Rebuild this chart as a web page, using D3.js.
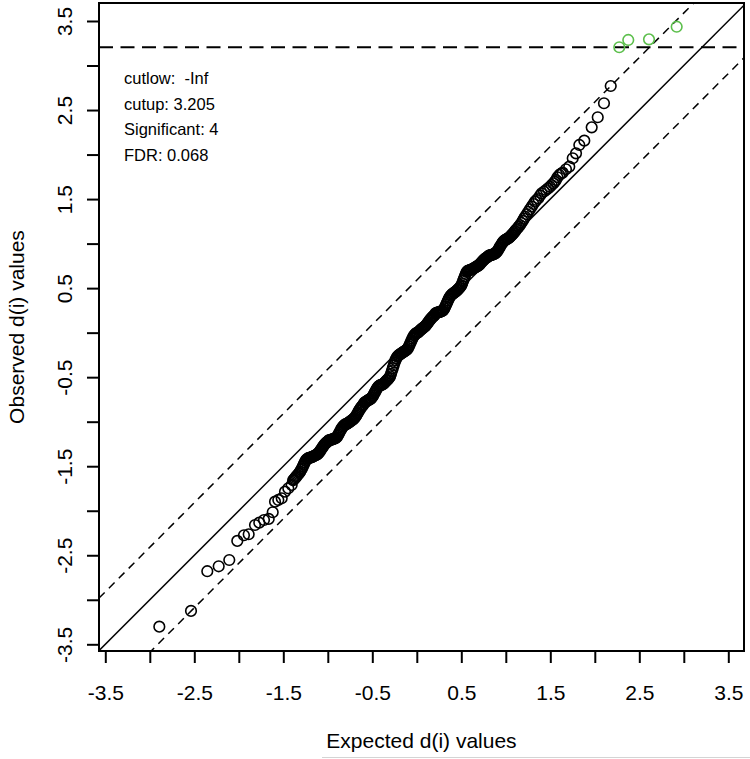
<!DOCTYPE html>
<html><head><meta charset="utf-8">
<script src="https://cdn.jsdelivr.net/npm/d3@7"></script>
<style>
body{margin:0;background:#fff;}
svg{display:block;}
text{font-family:"Liberation Sans",Arial,Helvetica,sans-serif;fill:#000;}
</style>
</head><body>
<svg id="chart" width="750" height="759"></svg>
<script>
// ---- data ----
// lower tail
const lowExpected = [-2.893,-2.537,-2.354,-2.226,-2.107,-2.017,-1.942,-1.889,-1.818,-1.770,-1.717,-1.664,-1.619,-1.593,-1.556,-1.518,-1.481,-1.444,-1.406];
const lowObserved = [-3.302,-3.125,-2.679,-2.624,-2.553,-2.339,-2.275,-2.264,-2.160,-2.134,-2.104,-2.092,-2.017,-1.898,-1.879,-1.860,-1.786,-1.748,-1.711];
// dense central band
const midExpected = [
 -1.39,-1.38,-1.37,-1.36,-1.35,-1.34,-1.33,-1.32,-1.31,-1.30,
 -1.29,-1.28,-1.27,-1.26,-1.25,-1.24,-1.23,-1.22,-1.21,-1.20,
 -1.19,-1.18,-1.17,-1.16,-1.15,-1.14,-1.13,-1.12,-1.11,-1.10,
 -1.09,-1.08,-1.07,-1.06,-1.05,-1.04,-1.03,-1.02,-1.01,-1.00,
 -0.99,-0.98,-0.97,-0.96,-0.95,-0.94,-0.93,-0.92,-0.91,-0.90,
 -0.89,-0.88,-0.87,-0.86,-0.85,-0.84,-0.83,-0.82,-0.81,-0.80,
 -0.79,-0.78,-0.77,-0.76,-0.75,-0.74,-0.73,-0.72,-0.71,-0.70,
 -0.69,-0.68,-0.67,-0.66,-0.65,-0.64,-0.63,-0.62,-0.61,-0.60,
 -0.59,-0.58,-0.57,-0.56,-0.55,-0.54,-0.53,-0.52,-0.51,-0.50,
 -0.49,-0.48,-0.47,-0.46,-0.45,-0.44,-0.43,-0.42,-0.41,-0.40,
 -0.39,-0.38,-0.37,-0.36,-0.35,-0.34,-0.33,-0.32,-0.31,-0.30,
 -0.29,-0.28,-0.27,-0.26,-0.25,-0.24,-0.23,-0.22,-0.21,-0.20,
 -0.19,-0.18,-0.17,-0.16,-0.15,-0.14,-0.13,-0.12,-0.11,-0.10,
 -0.09,-0.08,-0.07,-0.06,-0.05,-0.04,-0.03,-0.02,-0.01,0.00,
 0.01,0.02,0.03,0.04,0.05,0.06,0.07,0.08,0.09,0.10,
 0.11,0.12,0.13,0.14,0.15,0.16,0.17,0.18,0.19,0.20,
 0.21,0.22,0.23,0.24,0.25,0.26,0.27,0.28,0.29,0.30,
 0.31,0.32,0.33,0.34,0.35,0.36,0.37,0.38,0.39,0.40,
 0.41,0.42,0.43,0.44,0.45,0.46,0.47,0.48,0.49,0.50,
 0.51,0.52,0.53,0.54,0.55,0.56,0.57,0.58,0.59,0.60,
 0.61,0.62,0.63,0.64,0.65,0.66,0.67,0.68,0.69,0.70,
 0.71,0.72,0.73,0.74,0.75,0.76,0.77,0.78,0.79,0.80,
 0.81,0.82,0.83,0.84,0.85,0.86,0.87,0.88,0.89,0.90
];
const midObserved = [
 -1.658,-1.647,-1.635,-1.623,-1.611,-1.599,-1.587,-1.575,-1.561,-1.541,
 -1.524,-1.502,-1.480,-1.459,-1.440,-1.426,-1.416,-1.410,-1.406,-1.404,
 -1.402,-1.398,-1.393,-1.388,-1.383,-1.377,-1.372,-1.367,-1.359,-1.348,
 -1.334,-1.319,-1.304,-1.289,-1.273,-1.260,-1.248,-1.238,-1.230,-1.222,
 -1.210,-1.207,-1.203,-1.201,-1.198,-1.195,-1.191,-1.188,-1.183,-1.175,
 -1.160,-1.141,-1.122,-1.104,-1.084,-1.068,-1.054,-1.044,-1.034,-1.028,
 -1.027,-1.020,-1.013,-1.006,-0.999,-0.991,-0.984,-0.977,-0.969,-0.959,
 -0.946,-0.931,-0.913,-0.895,-0.876,-0.861,-0.845,-0.832,-0.819,-0.808,
 -0.787,-0.780,-0.774,-0.768,-0.761,-0.755,-0.750,-0.744,-0.735,-0.723,
 -0.707,-0.686,-0.668,-0.650,-0.631,-0.616,-0.604,-0.596,-0.589,-0.586,
 -0.584,-0.580,-0.570,-0.560,-0.549,-0.539,-0.529,-0.519,-0.507,-0.491,
 -0.463,-0.431,-0.399,-0.368,-0.336,-0.309,-0.288,-0.271,-0.259,-0.253,
 -0.243,-0.237,-0.230,-0.223,-0.216,-0.210,-0.203,-0.197,-0.188,-0.175,
 -0.156,-0.134,-0.111,-0.089,-0.066,-0.048,-0.031,-0.019,-0.008,-0.002,
 -0.001,0.009,0.018,0.029,0.037,0.045,0.053,0.061,0.069,0.079,
 0.091,0.105,0.119,0.132,0.146,0.158,0.170,0.180,0.189,0.197,
 0.218,0.221,0.225,0.228,0.231,0.234,0.238,0.241,0.246,0.256,
 0.273,0.294,0.316,0.337,0.361,0.382,0.400,0.414,0.425,0.435,
 0.440,0.449,0.456,0.464,0.473,0.483,0.493,0.504,0.516,0.533,
 0.555,0.581,0.607,0.633,0.658,0.681,0.693,0.698,0.701,0.704,
 0.706,0.712,0.718,0.723,0.729,0.735,0.741,0.746,0.753,0.761,
 0.770,0.782,0.793,0.804,0.815,0.825,0.833,0.841,0.847,0.854,
 0.865,0.868,0.870,0.873,0.876,0.880,0.885,0.890,0.898,0.908
];
// upper part (not significant)
const highExpected = [
 0.91,0.92,0.93,0.94,0.954,0.962,0.97,0.98,0.991,1.00,
 1.01,1.02,1.03,1.04,1.047,1.056,1.065,1.075,1.084,1.094,
 1.103,1.115,1.13,1.145,1.160,1.175,1.19,1.203,1.216,1.235,
 1.253,1.27,1.291,1.31,1.328,1.345,1.365,1.385,1.403,1.43,
 1.452,1.475,1.497,1.515,1.534,1.55,1.564,1.580,1.601,1.620,
 1.639,1.676,1.713,1.752,1.789,1.826,1.882,1.965,2.033,2.103,2.179
];
const highObserved = [
 0.922,0.940,0.957,0.975,0.996,1.009,1.020,1.030,1.039,1.045,
 1.052,1.056,1.061,1.068,1.077,1.086,1.095,1.105,1.116,1.128,
 1.140,1.155,1.172,1.190,1.209,1.232,1.255,1.278,1.302,1.330,
 1.358,1.385,1.415,1.445,1.471,1.490,1.509,1.540,1.565,1.585,
 1.602,1.620,1.639,1.658,1.677,1.695,1.714,1.745,1.771,1.785,
 1.797,1.835,1.864,1.958,2.014,2.108,2.156,2.306,2.419,2.576,2.770
];
// significant genes (green)
const sigExpected = [2.275, 2.376, 2.609, 2.920];
const sigObserved = [3.205, 3.287, 3.294, 3.436];

const tickValues = [-3.5,-3.0,-2.5,-2.0,-1.5,-1.0,-0.5,0.0,0.5,1.0,1.5,2.0,2.5,3.0,3.5];
const tickLabels = ["-3.5","","-2.5","","-1.5","","-0.5","","0.5","","1.5","","2.5","","3.5"];
const legendLines = ["cutlow:  -Inf", "cutup: 3.205", "Significant: 4", "FDR: 0.068"];
const cutup = 3.205;
const delta = 0.59;
const xTitle = "Expected d(i) values";
const yTitle = "Observed d(i) values";

// ---- layout ----
const box = {l: 99, r: 744, t: 3, b: 651};
const x = d3.scaleLinear().domain([-3.5708, 3.6764]).range([box.l, box.r]);
const y = d3.scaleLinear().domain([-3.5752, 3.7021]).range([box.b, box.t]);

const svg = d3.select("#chart");
svg.append("rect").attr("width", 750).attr("height", 759).attr("fill", "#fff");

svg.append("defs").append("clipPath").attr("id", "clip")
  .append("rect").attr("x", box.l).attr("y", box.t)
  .attr("width", box.r - box.l).attr("height", box.b - box.t);

const plot = svg.append("g").attr("clip-path", "url(#clip)");
const xd = x.domain();
const line = d3.line().x(d => x(d[0])).y(d => y(d[1]));

// reference lines
plot.append("path").datum([[xd[0], xd[0]], [xd[1], xd[1]]])
  .attr("d", line).attr("stroke", "#000").attr("stroke-width", 1.5).attr("fill", "none");
[delta, -delta].forEach(off => {
  plot.append("path").datum([[xd[0], xd[0] + off], [xd[1], xd[1] + off]])
    .attr("d", line).attr("stroke", "#000").attr("stroke-width", 1.5)
    .attr("stroke-dasharray", "8,6").attr("fill", "none");
});
plot.append("path").datum([[xd[0], cutup], [xd[1], cutup]])
  .attr("d", line).attr("stroke", "#000").attr("stroke-width", 2)
  .attr("stroke-dasharray", "14,7.5").attr("fill", "none");

// points
const expected = lowExpected.concat(midExpected, highExpected);
const observed = lowObserved.concat(midObserved, highObserved);
const pts = expected.map((e, i) => [e, observed[i]]);
plot.selectAll("circle.pt").data(pts).enter().append("circle")
  .attr("class", "pt").attr("cx", d => x(d[0])).attr("cy", d => y(d[1]))
  .attr("r", 5.3).attr("fill", "none").attr("stroke", "#000").attr("stroke-width", 1.6);
const sig = sigExpected.map((e, i) => [e, sigObserved[i]]);
plot.selectAll("circle.sig").data(sig).enter().append("circle")
  .attr("class", "sig").attr("cx", d => x(d[0])).attr("cy", d => y(d[1]))
  .attr("r", 5.3).attr("fill", "none").attr("stroke", "#5cbf4c").attr("stroke-width", 1.6);

// box
svg.append("rect").attr("x", box.l).attr("y", box.t)
  .attr("width", box.r - box.l).attr("height", box.b - box.t)
  .attr("fill", "none").attr("stroke", "#000").attr("stroke-width", 2);

// axes
const xAxis = d3.axisBottom(x).tickValues(tickValues).tickSize(12)
  .tickFormat((d, i) => tickLabels[i]);
const gx = svg.append("g").attr("transform", `translate(0,${box.b})`).call(xAxis);
gx.select(".domain").remove();
gx.selectAll(".tick line").attr("stroke", "#000").attr("stroke-width", 2);
gx.selectAll(".tick text").attr("font-size", 21).attr("dy", null).attr("y", 48.5)
  .attr("font-family", "Liberation Sans, Arial, sans-serif").attr("fill", "#000");

const yAxis = d3.axisLeft(y).tickValues(tickValues).tickSize(12)
  .tickFormat((d, i) => tickLabels[i]);
const gy = svg.append("g").attr("transform", `translate(${box.l},0)`).call(yAxis);
gy.select(".domain").remove();
gy.selectAll(".tick line").attr("stroke", "#000").attr("stroke-width", 2);
gy.selectAll(".tick text").attr("font-size", 21).attr("dy", null).attr("x", null)
  .attr("text-anchor", "middle")
  .attr("transform", "translate(-27.5,0) rotate(-90)")
  .attr("font-family", "Liberation Sans, Arial, sans-serif").attr("fill", "#000");

// titles
svg.append("text").attr("x", (box.l + box.r) / 2).attr("y", 748)
  .attr("text-anchor", "middle").attr("font-size", 21).text(xTitle);
svg.append("text").attr("transform", `translate(24,${(box.t + box.b) / 2}) rotate(-90)`)
  .attr("text-anchor", "middle").attr("font-size", 21).text(yTitle);

// legend text
const lg = svg.append("g");
legendLines.forEach((s, i) => {
  lg.append("text").attr("x", 124).attr("y", 84 + i * 25.7)
    .attr("font-size", 16.5).style("white-space", "pre").attr("xml:space", "preserve").text(s);
});

// faint frame edge visible at the bottom of the reference image
svg.append("line").attr("x1", 322).attr("x2", 750).attr("y1", 757.5).attr("y2", 757.5)
  .attr("stroke", "#d4d4d4").attr("stroke-width", 1);
</script>
</body></html>
